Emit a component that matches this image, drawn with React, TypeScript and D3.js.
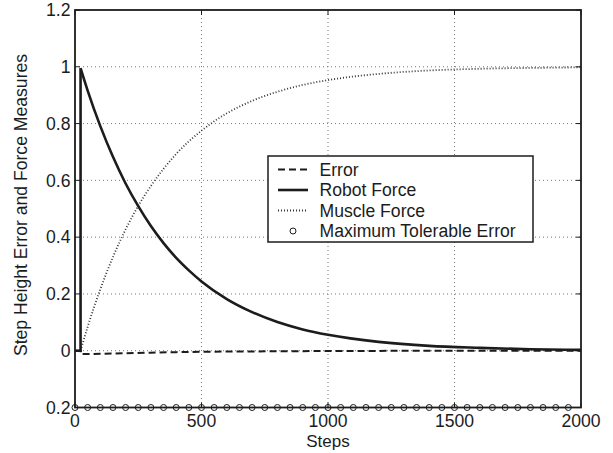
import React from "react";
import * as d3 from "d3";

const robotSteps = [0, 22, 22, 50, 100, 150, 200, 250, 300, 350, 400, 450, 500, 600, 700, 800, 900, 1000, 1200, 1400, 1600, 1800, 2000];
const robotValues = [0, 0, 0.995, 0.916, 0.791, 0.683, 0.589, 0.509, 0.439, 0.379, 0.327, 0.283, 0.244, 0.182, 0.136, 0.101, 0.075, 0.056, 0.031, 0.017, 0.01, 0.005, 0.003];

const muscleSteps = [22, 50, 100, 150, 200, 250, 300, 400, 500, 600, 700, 800, 900, 1000, 1200, 1400, 1600, 1800, 2000];
const muscleValues = [0, 0.084, 0.216, 0.33, 0.427, 0.51, 0.58, 0.693, 0.775, 0.836, 0.88, 0.912, 0.936, 0.953, 0.975, 0.987, 0.993, 0.996, 0.998];

const errorSteps = [0, 22, 22, 100, 200, 300, 400, 500, 600, 800, 1000, 1500, 2000];
const errorValues = [0, 0, -0.012, -0.011, -0.009, -0.007, -0.005, -0.004, -0.003, -0.002, -0.001, 0, 0];

const tolSteps = [0, 50, 100, 150, 200, 250, 300, 350, 400, 450, 500, 550, 600, 650, 700, 750, 800, 850, 900, 950, 1000, 1050, 1100, 1150, 1200, 1250, 1300, 1350, 1400, 1450, 1500, 1550, 1600, 1650, 1700, 1750, 1800, 1850, 1900, 1950];
const tolValue = -0.2;

const xTicks = [0, 500, 1000, 1500, 2000];
const xTickLabels = ["0", "500", "1000", "1500", "2000"];
const yTicks = [-0.2, 0, 0.2, 0.4, 0.6, 0.8, 1, 1.2];
const yTickLabels = ["0.2", "0", "0.2", "0.4", "0.6", "0.8", "1", "1.2"];

const legendLabels = ["Error", "Robot Force", "Muscle Force", "Maximum Tolerable Error"];

const W = 613, H = 453;
const L = 75, R = 581, T = 10, B = 407.5;
const FONT = "'Liberation Sans', Arial, Helvetica, sans-serif";
const FS = 17.6;
const INK = "#1c1c1c";

export default function App() {
  const x = d3.scaleLinear().domain([0, 2000]).range([L, R]);
  const y = d3.scaleLinear().domain([-0.2, 1.2]).range([B, T]);

  const lin = d3.line<[number, number]>().x(d => x(d[0])).y(d => y(d[1]));
  const mono = d3.line<[number, number]>().x(d => x(d[0])).y(d => y(d[1])).curve(d3.curveMonotoneX);

  const robotPts: [number, number][] = robotSteps.map((s, i) => [s, robotValues[i]]);
  const musclePts: [number, number][] = muscleSteps.map((s, i) => [s, muscleValues[i]]);
  const errorPts: [number, number][] = errorSteps.map((s, i) => [s, errorValues[i]]);

  const gridY = yTicks.filter(v => v > -0.2 && v < 1.2);
  const gridX = xTicks.filter(v => v > 0 && v < 2000);
  const tick = 5;

  const lgX = 268, lgY = 156, lgW = 265, lgH = 86;
  const rowY = [169.5, 190, 210.5, 231];

  return (
    <svg width={W} height={H} style={{ position: "absolute", left: 0, top: 0, background: "#fff" }} fontFamily={FONT}>
      <rect x={0} y={0} width={W} height={H} fill="#fff" />
      {/* grid */}
      {gridY.map(v => (
        <line key={"gy" + v} x1={L} x2={R} y1={y(v)} y2={y(v)} stroke="#777" strokeWidth={1} strokeDasharray="1 3" />
      ))}
      {gridX.map(v => (
        <line key={"gx" + v} x1={x(v)} x2={x(v)} y1={T} y2={B} stroke="#777" strokeWidth={1} strokeDasharray="1 3" />
      ))}
      {/* data */}
      <path d={lin(errorPts) || ""} fill="none" stroke={INK} strokeWidth={2} strokeDasharray="7 4" />
      <path d={mono(musclePts) || ""} fill="none" stroke="#333" strokeWidth={1.8} strokeDasharray="1 2" />
      <path d={lin(robotPts.slice(0, 3)) || ""} fill="none" stroke={INK} strokeWidth={2.6} />
      <path d={mono(robotPts.slice(2)) || ""} fill="none" stroke={INK} strokeWidth={2.6} />
      {tolSteps.map(s => (
        <circle key={"c" + s} cx={x(s)} cy={y(tolValue)} r={3} fill="none" stroke={INK} strokeWidth={1} />
      ))}
      {/* axes box */}
      <rect x={L} y={T} width={R - L} height={B - T} fill="none" stroke={INK} strokeWidth={1.8} />
      {xTicks.map(v => (
        <g key={"xt" + v}>
          <line x1={x(v)} x2={x(v)} y1={B} y2={B - tick} stroke={INK} strokeWidth={1} />
          <line x1={x(v)} x2={x(v)} y1={T} y2={T + tick} stroke={INK} strokeWidth={1} />
        </g>
      ))}
      {yTicks.map(v => (
        <g key={"yt" + v}>
          <line x1={L} x2={L + tick} y1={y(v)} y2={y(v)} stroke={INK} strokeWidth={1} />
          <line x1={R} x2={R - tick} y1={y(v)} y2={y(v)} stroke={INK} strokeWidth={1} />
        </g>
      ))}
      {xTicks.map((v, i) => (
        <text key={"xl" + v} x={x(v)} y={426.5} textAnchor="middle" fontSize={FS} fill={INK}>{xTickLabels[i]}</text>
      ))}
      {yTicks.map((v, i) => (
        <text key={"yl" + v} x={70.5} y={y(v) + 6.3} textAnchor="end" fontSize={FS} fill={INK}>{yTickLabels[i]}</text>
      ))}
      <text x={328} y={446.5} textAnchor="middle" fontSize={17} fill={INK}>Steps</text>
      <text transform={`translate(27,205) rotate(-90)`} textAnchor="middle" fontSize={FS} fill={INK}>Step Height Error and Force Measures</text>
      {/* legend */}
      <rect x={lgX} y={lgY} width={lgW} height={lgH} fill="#fff" stroke={INK} strokeWidth={1.5} />
      <line x1={278} x2={308} y1={rowY[0]} y2={rowY[0]} stroke={INK} strokeWidth={2} strokeDasharray="7 4" />
      <line x1={278} x2={308} y1={rowY[1]} y2={rowY[1]} stroke={INK} strokeWidth={2.6} />
      <line x1={278} x2={308} y1={rowY[2]} y2={rowY[2]} stroke="#333" strokeWidth={1.8} strokeDasharray="1 2" />
      <circle cx={293} cy={rowY[3]} r={3} fill="none" stroke={INK} strokeWidth={1} />
      {legendLabels.map((t, i) => (
        <text key={t} x={319.5} y={rowY[i] + 6.3} fontSize={FS} fill={INK}>{t}</text>
      ))}
    </svg>
  );
}
